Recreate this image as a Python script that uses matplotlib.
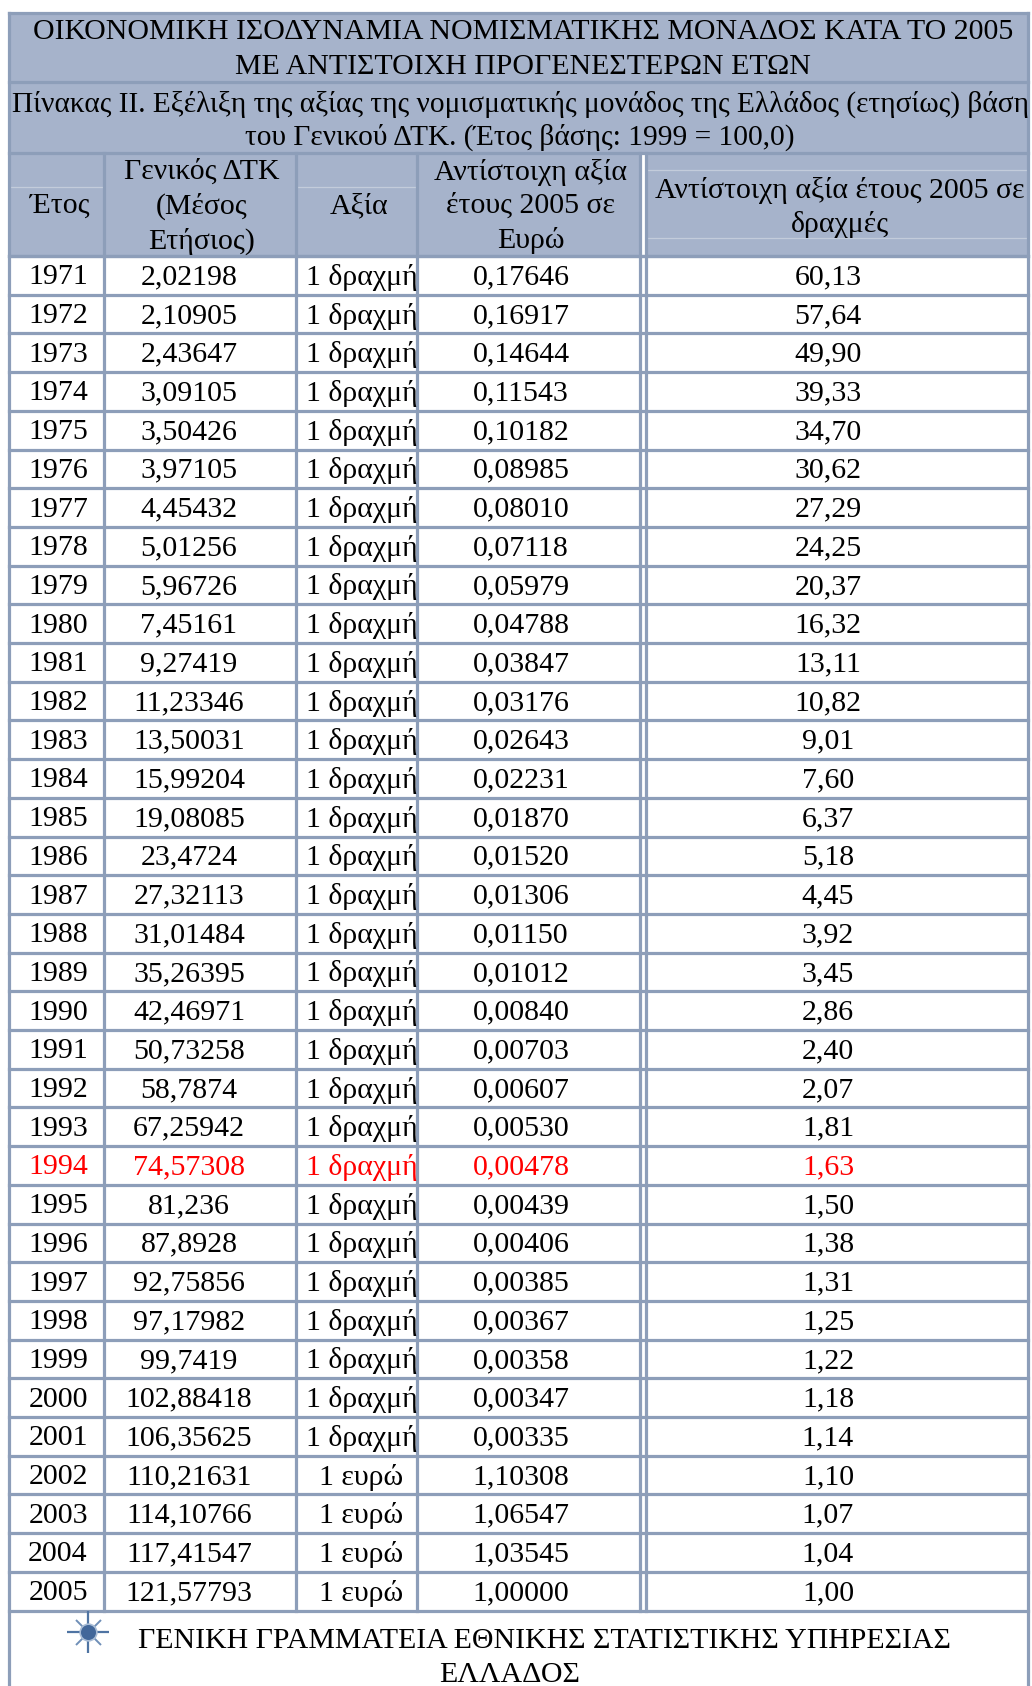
import matplotlib.pyplot as plt
from matplotlib.patches import Rectangle

plt.rcParams["font.family"] = ["Liberation Serif", "DejaVu Serif"]

title_lines = [
    "ΟΙΚΟΝΟΜΙΚΗ ΙΣΟΔΥΝΑΜΙΑ ΝΟΜΙΣΜΑΤΙΚΗΣ ΜΟΝΑΔΟΣ ΚΑΤΑ ΤΟ 2005",
    "ΜΕ ΑΝΤΙΣΤΟΙΧΗ ΠΡΟΓΕΝΕΣΤΕΡΩΝ ΕΤΩΝ",
]
subtitle_lines = [
    "Πίνακας ΙΙ. Εξέλιξη της αξίας της νομισματικής μονάδος της Ελλάδος (ετησίως) βάση",
    "του Γενικού ΔΤΚ. (Έτος βάσης: 1999 = 100,0)",
]
footer_lines = [
    "ΓΕΝΙΚΗ ΓΡΑΜΜΑΤΕΙΑ ΕΘΝΙΚΗΣ ΣΤΑΤΙΣΤΙΚΗΣ ΥΠΗΡΕΣΙΑΣ",
    "ΕΛΛΑΔΟΣ",
]

years = [str(y) for y in range(1971, 2006)]
cpi = [
    "2,02198", "2,10905", "2,43647", "3,09105", "3,50426", "3,97105",
    "4,45432", "5,01256", "5,96726", "7,45161", "9,27419", "11,23346",
    "13,50031", "15,99204", "19,08085", "23,4724", "27,32113", "31,01484",
    "35,26395", "42,46971", "50,73258", "58,7874", "67,25942", "74,57308",
    "81,236", "87,8928", "92,75856", "97,17982", "99,7419", "102,88418",
    "106,35625", "110,21631", "114,10766", "117,41547", "121,57793",
]
units = ["1 δραχμή"] * 31 + ["1 ευρώ"] * 4
euro_2005 = [
    "0,17646", "0,16917", "0,14644", "0,11543", "0,10182", "0,08985",
    "0,08010", "0,07118", "0,05979", "0,04788", "0,03847", "0,03176",
    "0,02643", "0,02231", "0,01870", "0,01520", "0,01306", "0,01150",
    "0,01012", "0,00840", "0,00703", "0,00607", "0,00530", "0,00478",
    "0,00439", "0,00406", "0,00385", "0,00367", "0,00358", "0,00347",
    "0,00335", "1,10308", "1,06547", "1,03545", "1,00000",
]
drachma_2005 = [
    "60,13", "57,64", "49,90", "39,33", "34,70", "30,62", "27,29", "24,25",
    "20,37", "16,32", "13,11", "10,82", "9,01", "7,60", "6,37", "5,18",
    "4,45", "3,92", "3,45", "2,86", "2,40", "2,07", "1,81", "1,63", "1,50",
    "1,38", "1,31", "1,25", "1,22", "1,18", "1,14", "1,10", "1,07", "1,04",
    "1,00",
]
highlight_year = "1994"

header_bg = "#a6b3cb"
border = "#8d9eb9"
light = "#c3ccdb"
fs = 21.5
dy = 2  # nudge text down a little, va="center" sits high for digits

# layout in pixels
left, right = 9, 1028
top, title_bot, sub_bot, head_bot = 13, 82, 153, 256
row_h = 38.7
col_x = [left, 104, 296, 417, 640, 645.5, right]

fig = plt.figure(figsize=(10.32, 16.86), dpi=100)
ax = fig.add_axes([0, 0, 1, 1])
ax.set_xlim(0, 1032)
ax.set_ylim(1686, 0)
ax.axis("off")

table_bot = head_bot + row_h * len(years)

ax.add_patch(Rectangle((left, top), right - left, head_bot - top,
                       facecolor=header_bg, edgecolor="none"))
ax.add_patch(Rectangle((col_x[4], sub_bot), col_x[5] - col_x[4],
                       table_bot - sub_bot, facecolor="white",
                       edgecolor="none", zorder=2))

lw = 2.3
# outer and band borders
for y in [top, title_bot, sub_bot, head_bot]:
    ax.plot([left, right], [y, y], color=border, lw=lw, zorder=3)
for x in [left, right]:
    ax.plot([x, x], [top, 1686], color=border, lw=lw, zorder=3)
for x in col_x[1:-1]:
    ax.plot([x, x], [sub_bot, table_bot], color=border, lw=lw, zorder=3)

# faint inner lines of the header cells
ax.plot([left, col_x[1]], [187, 187], color=light, lw=0.9, zorder=2)
ax.plot([col_x[2], col_x[3]], [187, 187], color=light, lw=0.9, zorder=2)
for y in [170, 238]:
    ax.plot([col_x[5], right], [y, y], color=light, lw=0.9, zorder=2)

for i in range(len(years) + 1):
    y = head_bot + row_h * i
    ax.plot([left, right], [y, y], color=border, lw=lw, zorder=3)

for y, line in zip([30, 64.5], title_lines):
    ax.text(523, y + dy, line, ha="center", va="center", fontsize=fs)
for y, line in zip([102, 135.5], subtitle_lines):
    ax.text(520, y + dy, line, ha="center", va="center", fontsize=21.2)

headers = [
    (60, ["Έτος"], [204]),
    (202, ["Γενικός ΔΤΚ", "(Μέσος", "Ετήσιος)"], [170, 204, 239]),
    (359, ["Αξία"], [204]),
    (531, ["Αντίστοιχη αξία", "έτους 2005 σε", "Ευρώ"], [170, 204, 239]),
    (840, ["Αντίστοιχη αξία έτους 2005 σε", "δραχμές"], [188, 222]),
]
for x, lines, ys in headers:
    for line, y in zip(lines, ys):
        ax.text(x, y + dy, line, ha="center", va="center", fontsize=fs)

for i, year in enumerate(years):
    y = head_bot + row_h * (i + 0.5) + dy
    color = "#ff0000" if year == highlight_year else "black"
    ax.text(58, y, year, ha="center", va="center", fontsize=fs, color=color)
    ax.text(189, y, cpi[i], ha="center", va="center", fontsize=fs, color=color)
    if units[i] == "1 ευρώ":
        ax.text(361, y, units[i], ha="center", va="center", fontsize=fs,
                color=color)
    else:
        ax.text(306, y, units[i], ha="left", va="center", fontsize=fs,
                color=color)
    ax.text(521, y, euro_2005[i], ha="center", va="center", fontsize=fs,
            color=color)
    ax.text(828, y, drachma_2005[i], ha="center", va="center", fontsize=fs,
            color=color)

# footer with the statistics service emblem
ax.plot([88], [1632], marker="+", markersize=30, color="#4f74a3",
        markeredgewidth=1.6, zorder=4)
ax.plot([88], [1632], marker="x", markersize=18, color="#6f8fb8",
        markeredgewidth=1.4, zorder=4)
ax.plot([88], [1632], marker="o", markersize=12, color="#42679a",
        markeredgecolor="#a9bdd6", markeredgewidth=1.2, zorder=5)
ax.text(544, 1639 + dy, footer_lines[0], ha="center", va="center",
        fontsize=21.5)
ax.text(510, 1673 + dy, footer_lines[1], ha="center", va="center",
        fontsize=21.5)

fig.savefig("out.png", dpi=100)
